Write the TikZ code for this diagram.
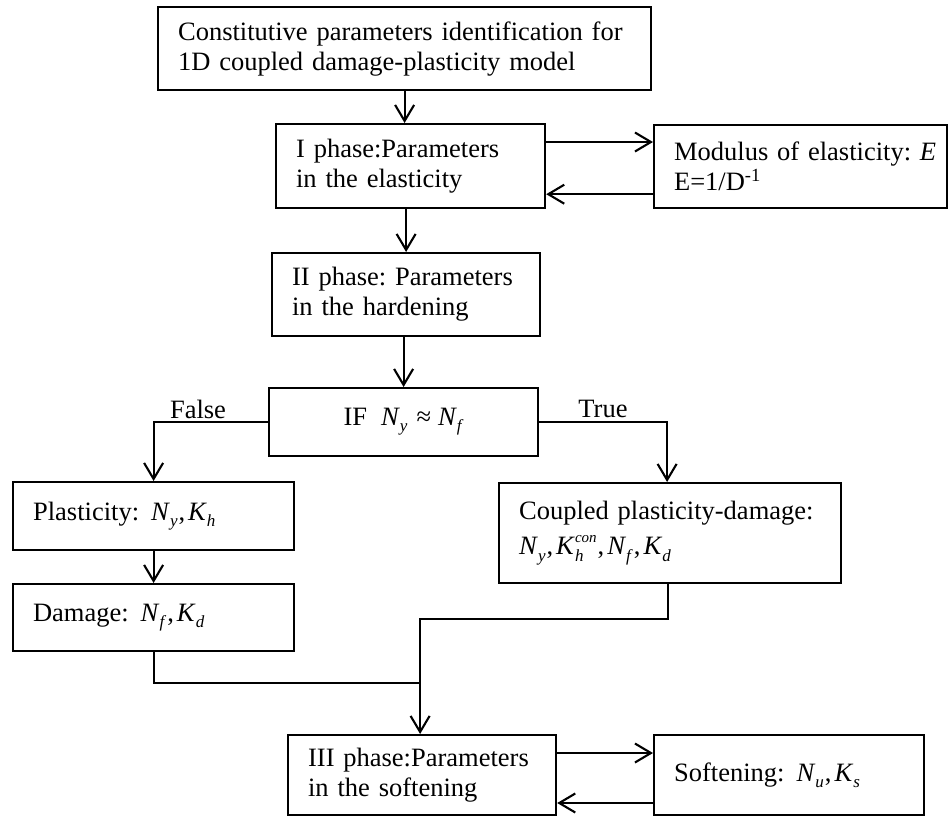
\documentclass[tikz,border=0pt]{standalone}
\usepackage{fontspec}
\setmainfont{Liberation Serif}
\usetikzlibrary{arrows.meta,calc}
\frenchspacing
\newcommand{\subf}{\fontsize{17}{17}\selectfont}
\newcommand{\supf}{\fontsize{15}{15}\selectfont}
\newcommand{\iv}[2]{\textit{#1}\raisebox{-0.5ex}{\subf\textit{#2}}}
\newcommand{\cm}{\hspace{1pt},\hspace{3pt}}
\begin{document}
\begin{tikzpicture}[x=1pt,y=-1pt,
  font=\fontsize{26.5}{30}\selectfont,
  box/.style={draw, line width=2.2pt, align=left, inner xsep=20pt, inner ysep=0pt, anchor=north west},
  cbox/.style={draw, line width=2.2pt, align=center, inner xsep=20pt, inner ysep=0pt, anchor=north west},
  arr/.style={line width=2.1pt, -{Straight Barb[length=16pt,width=19pt,line width=2.1pt]}},
  ln/.style={line width=2.1pt},
  lbl/.style={inner sep=0pt}]
\useasboundingbox (0,0) rectangle (949,816);

\node[box, text width=453pt, minimum height=83pt] (b1) at (157,6)
  {Constitutive parameters identification for\\1D coupled damage-plasticity model};
\node[box, text width=229pt, minimum height=84pt] (b2) at (275,123)
  {I phase:Parameters\\in the elasticity};
\node[box, text width=253pt, minimum height=83pt] (mod) at (653,124)
  {\mbox{Modulus of elasticity: \textit{E}}\\E=1/D\textsuperscript{-1}};
\node[box, text width=228pt, minimum height=83pt] (b3) at (271,252)
  {II phase: Parameters\\in the hardening};
\node[cbox, text width=229pt, minimum height=68pt] (if) at (268,387)
  {IF\hspace{14pt}\iv{N}{y}\hspace{9pt}≈\hspace{7pt}\iv{N}{f}};
\node[box, text width=241pt, minimum height=68pt] (plast) at (12,481)
  {Plasticity:\hspace{12pt}\iv{N}{y}\cm\iv{K}{h}};
\node[box, text width=302pt, minimum height=100pt] (coup) at (498,482)
  {Coupled plasticity-damage:\\[5pt]\iv{N}{y}\cm\textit{K}\rlap{\raisebox{-0.5ex}{\subf\textit{h}}}\raisebox{1.0ex}{\supf\textit{con}}\cm\iv{N}{f}\cm\iv{K}{d}};
\node[box, text width=241pt, minimum height=67pt] (dam) at (12,583)
  {Damage:\hspace{12pt}\iv{N}{f}\cm\iv{K}{d}};
\node[box, text width=228pt, minimum height=80pt] (b4) at (287,734)
  {III phase:Parameters\\in the softening};
\node[box, text width=230pt, minimum height=80pt] (soft) at (653,734)
  {Softening:\hspace{12pt}\iv{N}{u}\cm\iv{K}{s}};

% labels
\node[lbl] (fl) at (198,409) {False};
\node[lbl] (tl) at (603,409) {True};

% connectors
\draw[arr] (b1.south) -- (b1.south |- b2.north);
\coordinate (u1) at ($(b2.north east)+(0,19)$);
\draw[arr] (u1) -- (u1 -| mod.west);
\coordinate (l1) at ($(mod.south west)+(0,-15)$);
\draw[arr] (l1) -- (l1 -| b2.east);
\draw[arr] (b3.north |- b2.south) -- (b3.north);
\draw[arr] (if.north |- b3.south) -- (if.north);
\draw[arr] (if.west) -| (plast.north);
\draw[arr] (if.east) -| ($(coup.north)+(-3,0)$);
\draw[arr] (plast.south) -- (dam.north);
\coordinate (j) at ($(b4.north)+(-2,-51)$);
\coordinate (m) at ($(coup.south)+(-2,35)$);
\draw[ln] ($(coup.south)+(-2,0)$) -- (m) -- (m -| j) -- (j);
\draw[ln] (dam.south) |- (j);
\draw[arr] (j) -- (j |- b4.north);
\coordinate (u2) at ($(b4.north east)+(0,19)$);
\draw[arr] (u2) -- (u2 -| soft.west);
\coordinate (l2) at ($(soft.north west)+(0,69)$);
\draw[arr] (l2) -- (l2 -| b4.east);
\end{tikzpicture}
\end{document}
